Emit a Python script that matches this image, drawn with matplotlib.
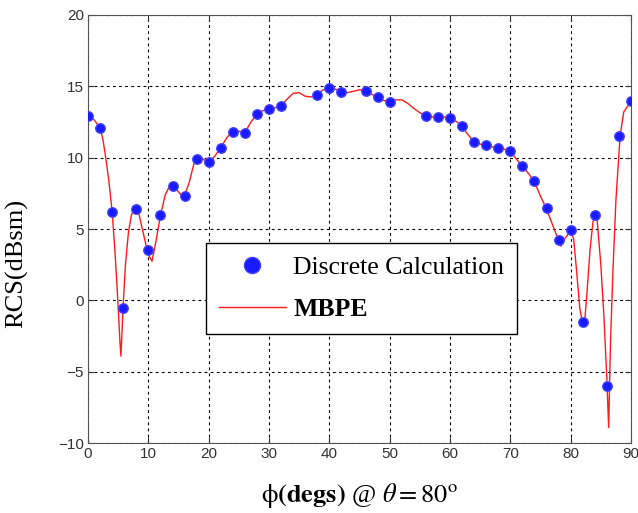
import numpy as np
import matplotlib
matplotlib.use('Agg')
import matplotlib.pyplot as plt

# discrete calculation points
phi_pts = [0, 2, 4, 5.8, 8, 10, 12, 14, 16, 18, 20, 22, 24, 26, 28, 30, 32,
           38, 40, 42, 46, 48, 50, 56, 58, 60, 62, 64, 66, 68, 70, 72, 74,
           76, 78, 80, 82, 84, 86, 88, 90]
rcs_pts = [12.9, 12.1, 6.2, -0.5, 6.4, 3.55, 5.95, 8.05, 7.35, 9.9, 9.7,
           10.65, 11.8, 11.75, 13.05, 13.4, 13.65, 14.4, 14.9, 14.6, 14.7,
           14.25, 13.9, 12.95, 12.85, 12.8, 12.25, 11.1, 10.9, 10.7, 10.5,
           9.45, 8.35, 6.45, 4.2, 4.9, -1.5, 5.95, -6.0, 11.55, 13.95]

# MBPE curve
phi_mbpe = [0, 1, 2, 2.5, 3, 3.5, 4, 4.5, 5, 5.3, 5.45, 5.6, 5.8, 6.2, 6.7,
            7.2, 7.8, 8.3, 9, 9.6, 10, 10.6, 11.2, 12, 12.8, 13.5, 14, 14.8,
            15.6, 16, 16.8, 17.5, 18, 18.8, 19.5, 20, 21, 22, 23, 24, 25, 26,
            27, 28, 29, 30, 31, 32, 33, 34, 35, 36, 37, 38, 39, 40, 41, 42,
            43, 44, 45, 46, 47, 48, 49, 50, 51, 52, 53, 54, 55, 56, 57, 58,
            59, 60, 61, 62, 63, 64, 65, 66, 67, 68, 69, 70, 71, 72, 73, 74,
            75, 76, 77, 78, 78.4, 79, 80, 80.5, 81, 81.5, 82, 82.3, 82.7,
            83.2, 83.7, 84, 84.4, 85, 85.5, 86, 86.3, 86.6, 87, 87.5, 88.2,
            88.8, 90]
rcs_mbpe = [12.9, 12.65, 12.1, 11.2, 9.8, 8.2, 6.2, 3.2, -0.5, -3.0, -3.9,
            -2.5, -0.5, 2.5, 4.8, 6.0, 6.5, 6.3, 5.0, 3.9, 3.2, 2.75, 4.0,
            5.95, 7.4, 8.0, 8.1, 7.7, 7.3, 7.35, 8.3, 9.5, 9.95, 10.0, 9.75,
            9.65, 10.1, 10.7, 11.4, 11.85, 11.85, 11.75, 12.5, 13.05, 13.3,
            13.35, 13.5, 13.65, 14.1, 14.5, 14.55, 14.3, 14.25, 14.45, 14.75,
            14.9, 14.8, 14.6, 14.55, 14.65, 14.75, 14.7, 14.45, 14.2, 14.0,
            13.95, 14.05, 14.05, 13.8, 13.45, 13.15, 12.95, 12.85, 12.85,
            12.85, 12.8, 12.55, 12.2, 11.6, 11.1, 10.95, 10.85, 10.75, 10.7,
            10.6, 10.45, 9.9, 9.4, 8.9, 8.3, 7.3, 6.4, 5.3, 4.2, 3.8, 4.3,
            4.9, 4.3, 2.0, -0.5, -1.7, -1.6, 0.5, 3.5, 5.5, 6.0, 5.6, 2.5,
            -1.0, -5.5, -8.9, -3.0, 2.0, 7.0, 11.55, 13.2, 13.95]

plt.rcParams['mathtext.fontset'] = 'stix'

fig = plt.figure(figsize=(6.38, 5.13), dpi=100)
ax = fig.add_axes([0.138, 0.136, 0.851, 0.835])

ax.plot(phi_mbpe, rcs_mbpe, color='#ff1a1a', lw=1.0, label='MBPE', zorder=2)
ax.plot(phi_pts, rcs_pts, 'o', color='#1a1aff', ms=6.8, mec='#4040ff',
        label='Discrete Calculation', zorder=3)

ax.set_xlim(0, 90)
ax.set_ylim(-10, 20)
ax.set_xticks(range(0, 91, 10))
ax.set_yticks(range(-10, 21, 5))
ax.grid(True, color='black', linestyle=(0, (2.5, 3)), lw=0.8)
ax.tick_params(direction='in', length=4, top=True, right=True,
               labelsize=11, colors='#333333', pad=3)
for lab in ax.get_xticklabels() + ax.get_yticklabels():
    lab.set_fontfamily('Liberation Sans')
for s in ax.spines.values():
    s.set_color('#555555')

ax.set_ylabel('RCS(dBsm)', fontsize=19, family='Liberation Serif')
ax.yaxis.set_label_coords(-0.11, 0.42)
ax.set_xlabel(r'$\mathrm{\phi}\mathbf{(degs)}$ @ $\theta = 80^{\rm o}$',
              fontsize=19, family='Liberation Serif', labelpad=14)

h, l = ax.get_legend_handles_labels()
leg = ax.legend(h[::-1], l[::-1], loc='upper left',
                bbox_to_anchor=(0.217, 0.467), borderaxespad=0,
                frameon=True, fancybox=False,
                edgecolor='black', framealpha=1, handlelength=2.6,
                handletextpad=0.3, labelspacing=0.75, borderpad=0.5,
                markerscale=1.7, prop={'family': 'Liberation Serif', 'size': 18.5})
leg.get_frame().set_linewidth(1.0)
leg.get_texts()[1].set_fontweight('bold')

fig.savefig('out.png', dpi=100)
